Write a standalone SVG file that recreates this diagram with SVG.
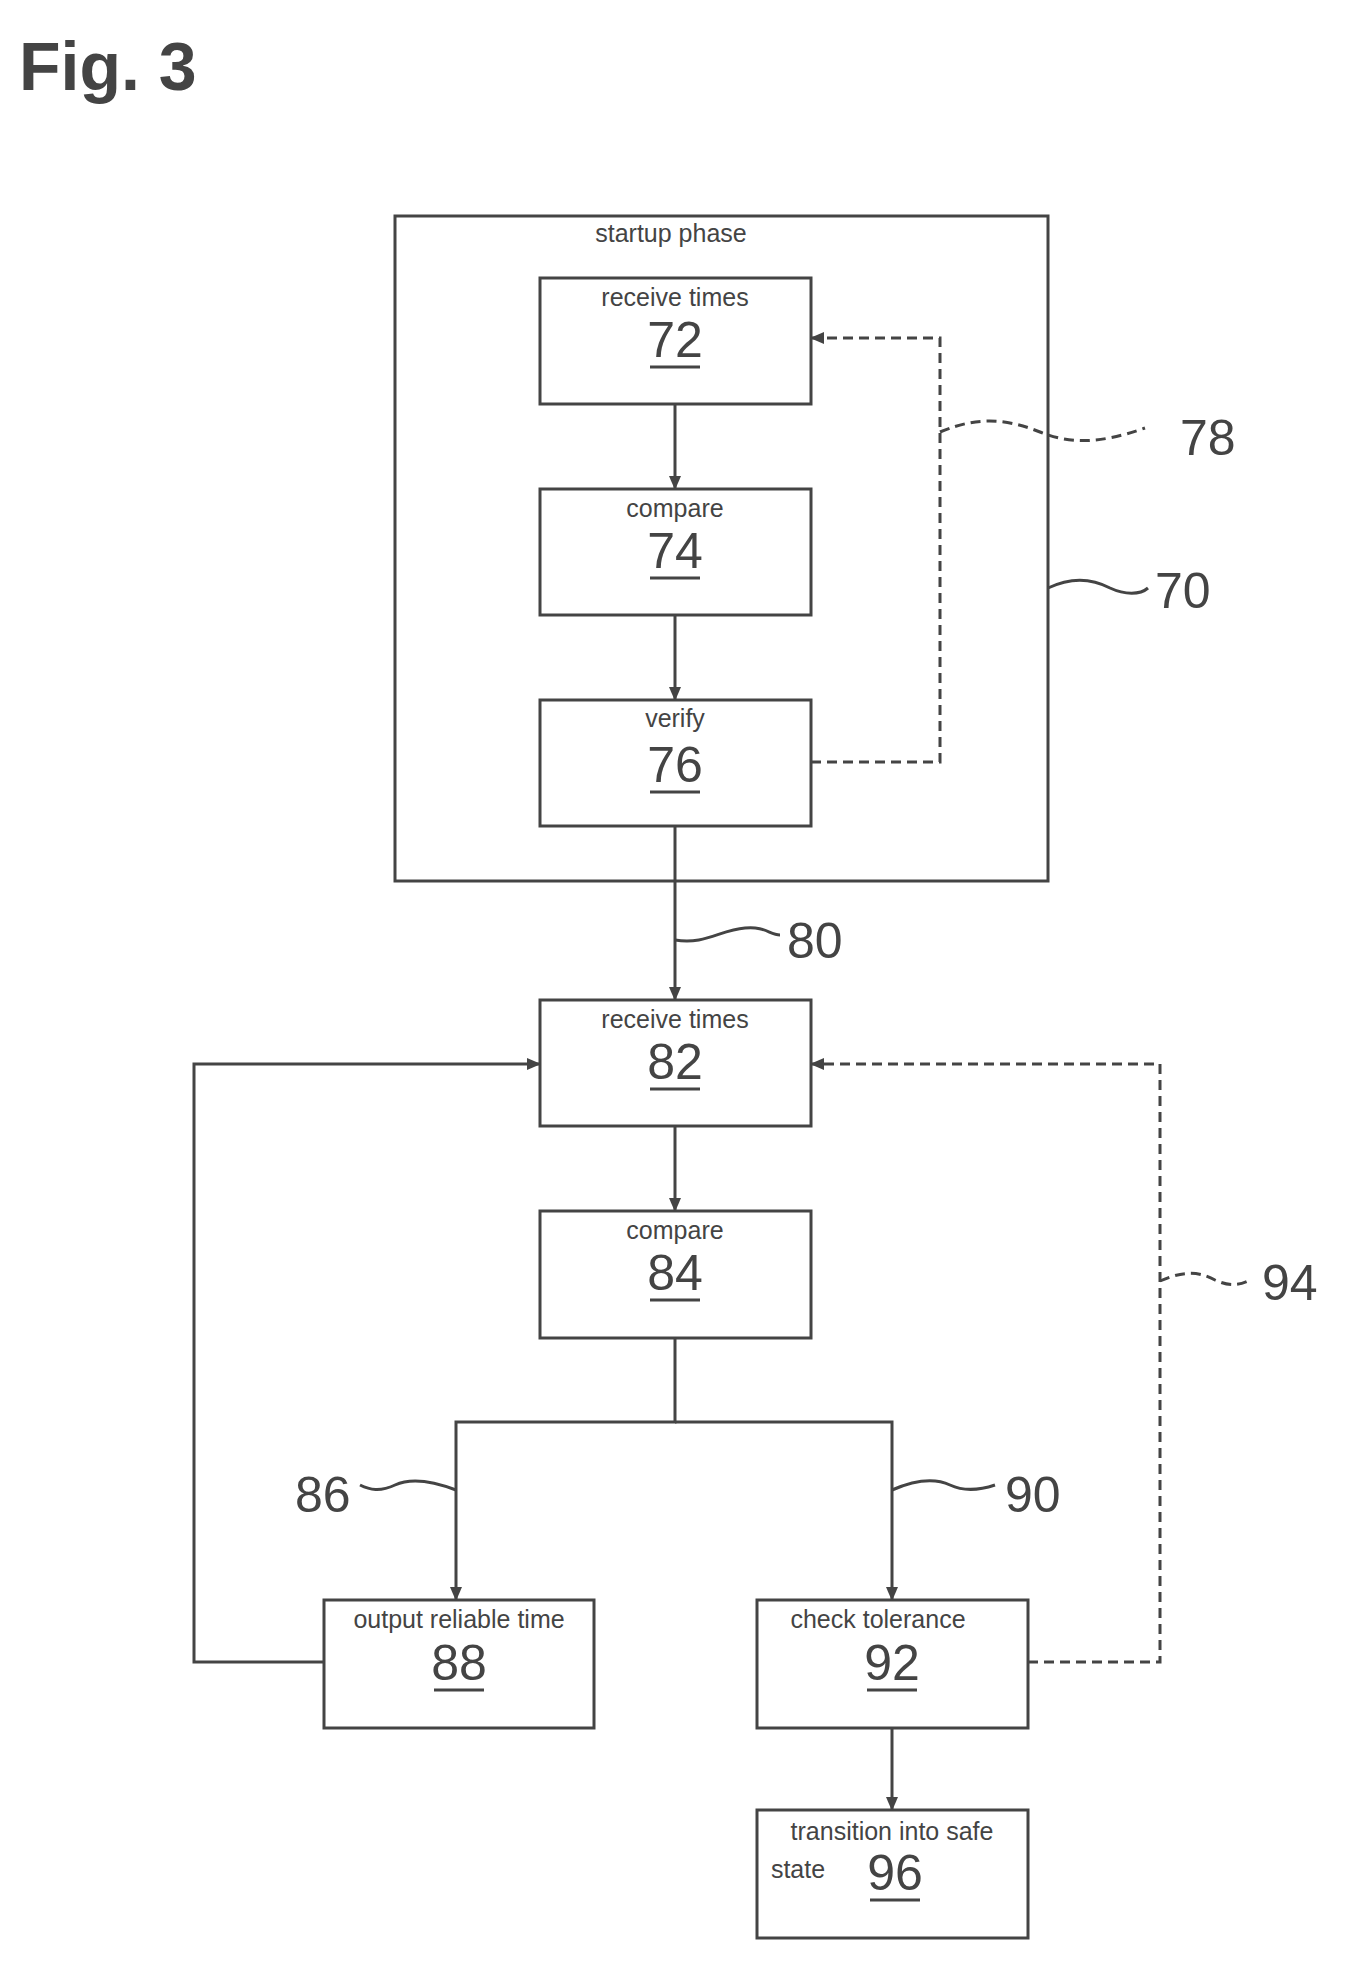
<svg xmlns="http://www.w3.org/2000/svg" width="1350" height="1973" viewBox="0 0 1350 1973">
<defs>
<style>
.b{fill:#fff;stroke:#444;stroke-width:3}
.l{fill:none;stroke:#444;stroke-width:3}
.d{fill:none;stroke:#444;stroke-width:3;stroke-dasharray:10,6}
.t{font-family:"Liberation Sans",Arial,sans-serif;font-size:25px;fill:#444;text-anchor:middle}
.n{font-family:"Liberation Sans",Arial,sans-serif;font-size:50px;fill:#444;text-anchor:middle}
.r{font-family:"Liberation Sans",Arial,sans-serif;font-size:50px;fill:#444}
</style>
<marker id="a" markerWidth="14" markerHeight="14" refX="13" refY="7" orient="auto" markerUnits="userSpaceOnUse"><path d="M0,1 L14,7 L0,13 z" fill="#444"/></marker>
</defs>
<rect width="1350" height="1973" fill="#fff"/>
<text x="19" y="90" class="r" style="font-size:68px;font-weight:bold">Fig. 3</text>
<g id="n70"><rect class="b" x="395" y="216" width="653" height="665"/><text class="t" x="671" y="242">startup phase</text></g>
<g id="n72"><rect class="b" x="540" y="278" width="271" height="126"/><text class="t" x="675" y="306">receive times</text><text class="n" x="675" y="357">72</text><line class="l" x1="650" y1="367" x2="700" y2="367"/></g>
<g id="n74"><rect class="b" x="540" y="489" width="271" height="126"/><text class="t" x="675" y="517">compare</text><text class="n" x="675" y="568">74</text><line class="l" x1="650" y1="578" x2="700" y2="578"/></g>
<g id="n76"><rect class="b" x="540" y="700" width="271" height="126"/><text class="t" x="675" y="727">verify</text><text class="n" x="675" y="782">76</text><line class="l" x1="650" y1="792" x2="700" y2="792"/></g>
<g id="n82"><rect class="b" x="540" y="1000" width="271" height="126"/><text class="t" x="675" y="1028">receive times</text><text class="n" x="675" y="1079">82</text><line class="l" x1="650" y1="1089" x2="700" y2="1089"/></g>
<g id="n84"><rect class="b" x="540" y="1211" width="271" height="127"/><text class="t" x="675" y="1239">compare</text><text class="n" x="675" y="1290">84</text><line class="l" x1="650" y1="1300" x2="700" y2="1300"/></g>
<g id="n88"><rect class="b" x="324" y="1600" width="270" height="128"/><text class="t" x="459" y="1628">output reliable time</text><text class="n" x="459" y="1680">88</text><line class="l" x1="434" y1="1690" x2="484" y2="1690"/></g>
<g id="n92"><rect class="b" x="757" y="1600" width="271" height="128"/><text class="t" x="878" y="1628">check tolerance</text><text class="n" x="892" y="1680">92</text><line class="l" x1="867" y1="1690" x2="917" y2="1690"/></g>
<g id="n96"><rect class="b" x="757" y="1810" width="271" height="128"/><text class="t" x="892" y="1840">transition into safe</text><text class="t" x="798" y="1878">state</text><text class="n" x="895" y="1890">96</text><line class="l" x1="870" y1="1900" x2="920" y2="1900"/></g>
<g id="connectors">
<line class="l" x1="675" y1="404" x2="675" y2="489" marker-end="url(#a)"/>
<line class="l" x1="675" y1="615" x2="675" y2="700" marker-end="url(#a)"/>
<line class="l" x1="675" y1="826" x2="675" y2="1000" marker-end="url(#a)"/>
<line class="l" x1="675" y1="1126" x2="675" y2="1211" marker-end="url(#a)"/>
<polyline class="l" points="675,1338 675,1422 456,1422 456,1600" marker-end="url(#a)"/>
<polyline class="l" points="675,1422 892,1422 892,1600" marker-end="url(#a)"/>
<line class="l" x1="892" y1="1728" x2="892" y2="1810" marker-end="url(#a)"/>
<polyline class="l" points="324,1662 194,1662 194,1064 540,1064" marker-end="url(#a)"/>
<polyline class="d" points="811,762 940,762 940,338 811,338" marker-end="url(#a)"/>
<polyline class="d" points="1028,1662 1160,1662 1160,1064 811,1064" marker-end="url(#a)"/>
<path class="d" d="M940,432 C980,415 1010,420 1040,432 C1070,444 1100,444 1145,428"/>
<path class="l" d="M1048,588 C1075,575 1095,580 1110,588 C1125,595 1140,595 1148,588"/>
<path class="l" d="M675,940 C705,945 720,930 745,928 C765,926 770,935 780,935"/>
<path class="l" d="M456,1490 C430,1480 410,1478 395,1485 C380,1492 370,1490 360,1485"/>
<path class="l" d="M892,1490 C915,1480 935,1478 950,1485 C965,1492 980,1490 995,1485"/>
<path class="d" d="M1160,1281 C1185,1270 1200,1272 1215,1280 C1230,1287 1240,1285 1250,1280"/>
</g>
<text class="r" x="1180" y="455">78</text>
<text class="r" x="1155" y="608">70</text>
<text class="r" x="787" y="958">80</text>
<text class="r" x="295" y="1512">86</text>
<text class="r" x="1005" y="1512">90</text>
<text class="r" x="1262" y="1300">94</text>
</svg>
